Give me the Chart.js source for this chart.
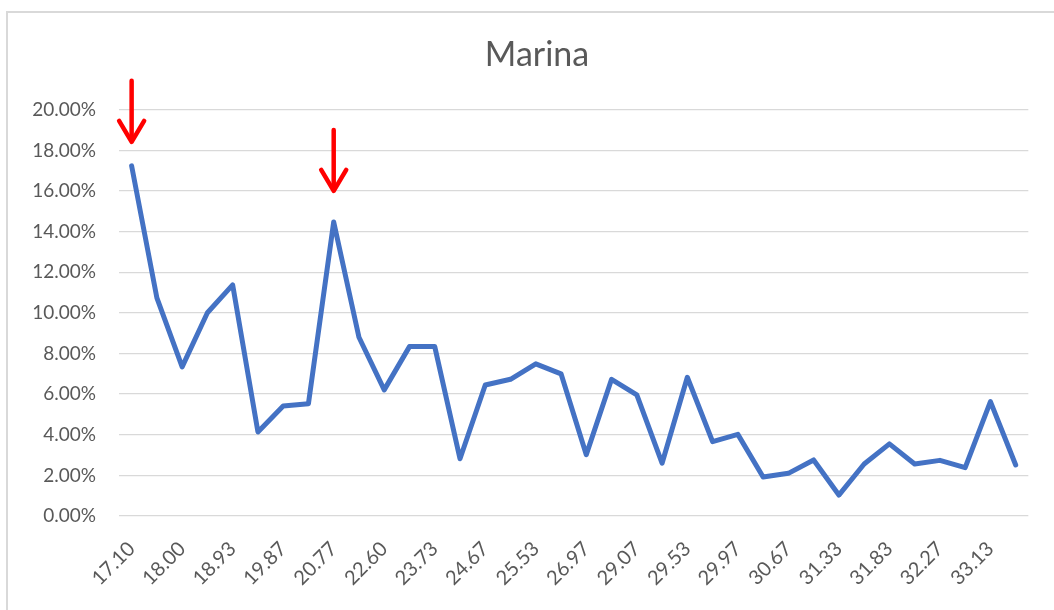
<!DOCTYPE html>
<html>
<head>
<meta charset="utf-8">
<title>Marina</title>
<script src="https://cdn.jsdelivr.net/npm/chart.js@4.4.0/dist/chart.umd.js"></script>
<style>
  html, body { margin: 0; padding: 0; background: #fff; }
  canvas { display: block; }
</style>
</head>
<body>
<canvas id="chart" width="1054" height="610"></canvas>
<script>
// category labels (every other one is shown on the axis, the rest are estimates)
const categories = [
    '17.10', '17.53', '18.00', '18.47', '18.93', '19.40', '19.87', '20.33', '20.77', '21.70',
    '22.60', '23.17', '23.73', '24.20', '24.67', '25.10', '25.53', '26.27', '26.97', '28.00',
    '29.07', '29.30', '29.53', '29.77', '29.97', '30.33', '30.67', '31.00', '31.33', '31.60',
    '31.83', '32.07', '32.27', '32.70', '33.13', '33.57'
];

// share in percent
const marinaValues = [
    17.24, 10.74, 7.34, 10.01, 11.38, 4.14, 5.42, 5.53, 14.48, 8.80,
    6.21, 8.34, 8.34, 2.82, 6.45, 6.73, 7.49, 7.00, 3.02, 6.73,
    5.96, 2.60, 6.83, 3.66, 4.02, 1.92, 2.10, 2.76, 1.03, 2.56,
    3.55, 2.56, 2.74, 2.38, 5.63, 2.51
];

// points marked with a red arrow
const arrowIndices = [0, 8];

const yTicks = { min: 0, max: 20, step: 2 };

const fontFamily = "Lato, 'Open Sans', sans-serif";
const textColor = '#595959';

// red arrows pointing down at chosen points
const arrowPlugin = {
    id: 'arrows',
    afterDatasetsDraw(chart) {
        const meta = chart.getDatasetMeta(0);
        const ctx = chart.ctx;
        const gaps = [24, 31];
        ctx.save();
        ctx.strokeStyle = '#FF0000';
        ctx.lineWidth = 4.5;
        ctx.lineCap = 'round';
        ctx.lineJoin = 'round';
        arrowIndices.forEach((idx, n) => {
            const pt = meta.data[idx];
            const tipY = pt.y - gaps[n];
            const x = pt.x;
            ctx.beginPath();
            ctx.moveTo(x, tipY - 61);
            ctx.lineTo(x, tipY - 2);
            ctx.stroke();
            ctx.beginPath();
            ctx.moveTo(x - 12.5, tipY - 21);
            ctx.lineTo(x, tipY);
            ctx.lineTo(x + 12.5, tipY - 21);
            ctx.stroke();
        });
        ctx.restore();
    }
};

// light frame like the Excel chart area
const framePlugin = {
    id: 'frame',
    beforeDraw(chart) {
        const ctx = chart.ctx;
        ctx.save();
        ctx.fillStyle = '#ffffff';
        ctx.fillRect(0, 0, chart.width, chart.height);
        ctx.strokeStyle = '#d9d9d9';
        ctx.lineWidth = 2;
        ctx.beginPath();
        ctx.moveTo(7, chart.height);
        ctx.lineTo(7, 12);
        ctx.lineTo(chart.width, 12);
        ctx.stroke();
        ctx.restore();
    }
};

const ctx = document.getElementById('chart').getContext('2d');

new Chart(ctx, {
    type: 'line',
    data: {
        labels: categories,
        datasets: [
            {
                label: 'Marina',
                data: marinaValues,
                borderColor: '#4472C4',
                backgroundColor: '#4472C4',
                borderWidth: 5,
                borderJoinStyle: 'round',
                borderCapStyle: 'round',
                pointRadius: 0,
                tension: 0,
                fill: false
            }
        ]
    },
    options: {
        responsive: false,
        animation: false,
        layout: {
            padding: { left: 22, right: 2, top: 0, bottom: 0 }
        },
        plugins: {
            legend: { display: false },
            tooltip: { enabled: false },
            title: {
                display: true,
                text: 'Marina',
                color: textColor,
                font: { family: fontFamily, size: 34, weight: 'normal' },
                padding: { top: 35, bottom: 34 }
            }
        },
        scales: {
            x: {
                offset: true,
                grid: { display: false, drawTicks: false },
                border: { display: false },
                ticks: {
                    autoSkip: false,
                    maxRotation: 45,
                    minRotation: 45,
                    padding: 21,
                    color: textColor,
                    font: { family: fontFamily, size: 20 },
                    callback: function (value, index) {
                        return index % 2 === 0 ? this.getLabelForValue(value) : '';
                    }
                },
                afterFit(scale) {
                    scale.height = 94;
                }
            },
            y: {
                min: yTicks.min,
                max: yTicks.max,
                grid: {
                    color: '#d9d9d9',
                    lineWidth: 1.3,
                    drawTicks: false
                },
                border: { display: false },
                ticks: {
                    stepSize: yTicks.step,
                    padding: 23,
                    color: textColor,
                    font: { family: fontFamily, size: 19 },
                    callback: (v) => v.toFixed(2) + '%'
                },
                afterFit(scale) {
                    scale.width = 97;
                }
            },
            // empty spacer on the right so the plot ends where the reference does
            spacer: {
                type: 'linear',
                position: 'right',
                grid: { display: false, drawTicks: false },
                border: { display: false },
                ticks: { display: false },
                afterFit(scale) {
                    scale.width = 22;
                }
            }
        }
    },
    plugins: [framePlugin, arrowPlugin]
});
</script>
</body>
</html>
